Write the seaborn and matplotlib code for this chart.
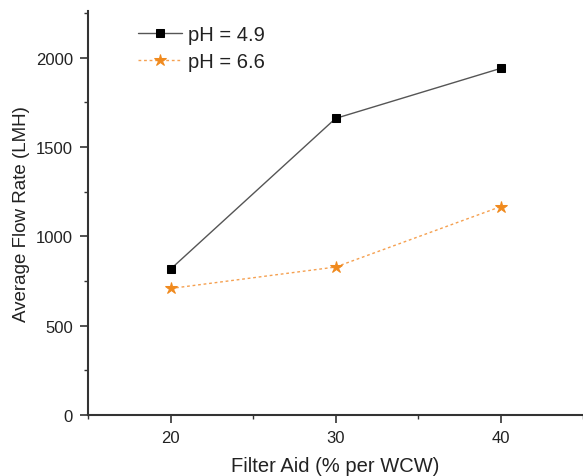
import matplotlib
matplotlib.use("Agg")
import matplotlib.pyplot as plt
import seaborn as sns
import pandas as pd
from matplotlib.ticker import MultipleLocator

filter_aid = [20, 30, 40]
ph49 = [816, 1660, 1940]
ph66 = [708, 828, 1166]
labels = ["pH = 4.9", "pH = 6.6"]

sns.set_style("ticks")
plt.rcParams['font.family'] = ['Liberation Sans', 'DejaVu Sans']

df = pd.DataFrame({"x": filter_aid * 2, "y": ph49 + ph66,
                   "s": [labels[0]] * 3 + [labels[1]] * 3})

fig = plt.figure(figsize=(5.83, 4.77), dpi=100)
ax = fig.add_axes([0.151, 0.128, 0.849, 0.847])

sns.lineplot(data=df[df.s == labels[0]], x="x", y="y", ax=ax, color="#555555",
             lw=1.0, marker="s", markersize=6, markerfacecolor="black",
             markeredgecolor="black", label=labels[0])
sns.lineplot(data=df[df.s == labels[1]], x="x", y="y", ax=ax, color="#F5A050",
             lw=1.0, ls=(0, (2, 2)), marker="*", markersize=9,
             markerfacecolor="#F08A1E", markeredgecolor="#F08A1E", label=labels[1])

ax.set_xlim(15, 45)
ax.set_ylim(0, 2262)
ax.xaxis.set_major_locator(MultipleLocator(10))
ax.xaxis.set_minor_locator(MultipleLocator(5))
ax.yaxis.set_major_locator(MultipleLocator(500))
ax.yaxis.set_minor_locator(MultipleLocator(250))
ax.tick_params(which="major", length=6, width=1.2, labelsize=12, direction="out",
               colors="#333333", pad=5)
ax.tick_params(which="minor", length=3, width=1.0, direction="out", colors="#333333")
ax.tick_params(labelcolor="#222222")
for s in ["top", "right"]:
    ax.spines[s].set_visible(False)
for s in ["left", "bottom"]:
    ax.spines[s].set_linewidth(1.5)
    ax.spines[s].set_color("#333333")

ax.set_xlabel("Filter Aid (% per WCW)", fontsize=14.5, labelpad=8, color="#222222")
ax.set_ylabel("Average Flow Rate (LMH)", fontsize=13.5, labelpad=4, color="#222222")

leg = ax.legend(loc="upper left", bbox_to_anchor=(0.223, 0.962), bbox_transform=fig.transFigure,
                frameon=False, fontsize=14.5, handlelength=2.2, handletextpad=0.3,
                labelspacing=0.4, borderaxespad=0)
for t in leg.get_texts():
    t.set_color("#222222")

fig.savefig("out.png", dpi=100)
